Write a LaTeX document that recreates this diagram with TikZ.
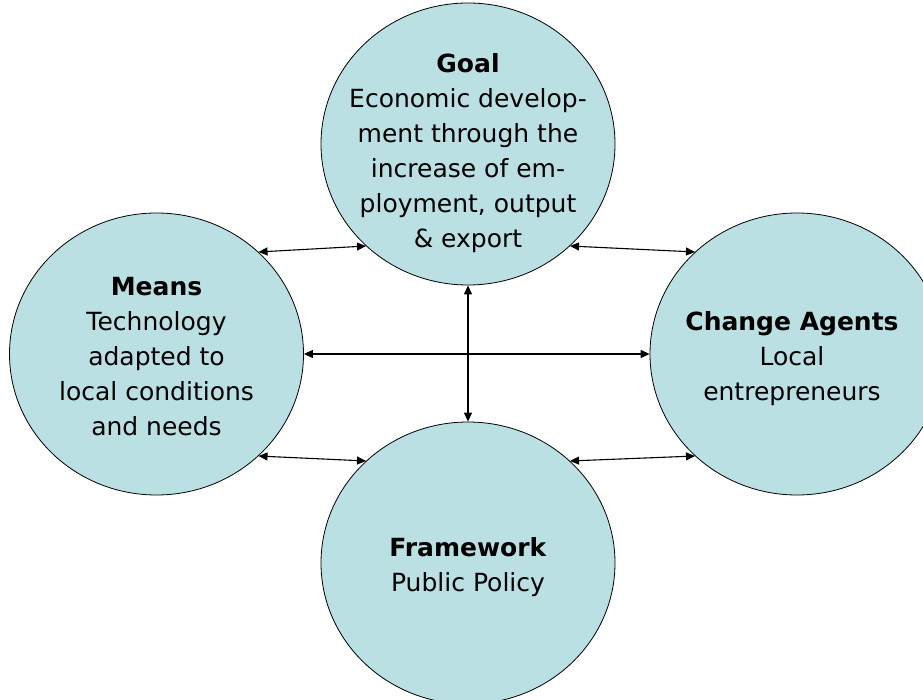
\documentclass[tikz,border=0pt]{standalone}
\usepackage{fontspec}
\setmainfont{DejaVu Sans}
\usetikzlibrary{shapes.geometric,arrows.meta}
\definecolor{bubble}{HTML}{BBE0E3}
\begin{document}
\begin{tikzpicture}[x=1pt,y=-1pt,
  bub/.style={ellipse,draw=black,line width=0.8pt,fill=bubble,minimum width=294pt,minimum height=282pt,inner sep=0pt},
  txt/.style={align=center,font=\fontsize{25}{35}\selectfont,inner sep=0pt},
  link/.style={line width=1.1pt,{Triangle[length=9pt,width=8pt]}-{Triangle[length=9pt,width=8pt]}}]
\useasboundingbox (0,0) rectangle (923,700);
\clip (0,0) rectangle (923,700);
\node[bub] (goal) at (468,144) {};
\node[bub] (means) at (156.5,354) {};
\node[bub] (agents) at (797,354) {};
\node[bub] (frame) at (468,563) {};
\node[txt] (goalt) at (468,153) {\textbf{Goal}\\Economic develop-\\ment through the\\increase of em-\\ployment, output\\\& export};
\node[txt] (meanst) at (156.5,357) {\textbf{Means}\\Technology\\adapted to\\local conditions\\and needs};
\node[txt] (agentst) at (792,359) {\textbf{Change Agents}\\Local\\entrepreneurs};
\node[txt] (framet) at (468,567) {\textbf{Framework}\\Public Policy};
\draw[link] (means.45) -- (goal.-135);
\draw[link] (goal.-45) -- (agents.135);
\draw[link] (means.east) -- (agents.west);
\draw[link] (goal.south) -- (frame.north);
\draw[link] (means.-45) -- (frame.135);
\draw[link] (frame.45) -- (agents.-135);
\end{tikzpicture}
\end{document}
